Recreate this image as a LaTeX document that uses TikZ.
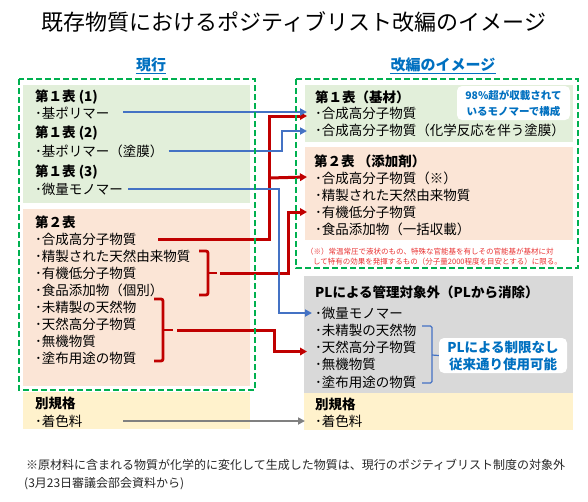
\documentclass[tikz,border=0pt]{standalone}
\usepackage{fontspec}
\setmainfont{Noto Sans CJK JP}
\usetikzlibrary{arrows.meta}
\definecolor{gfill}{RGB}{226,239,218}
\definecolor{sfill}{RGB}{251,229,214}
\definecolor{grfill}{RGB}{217,217,217}
\definecolor{yfill}{RGB}{255,242,204}
\definecolor{dgreen}{RGB}{0,176,80}
\definecolor{lblue}{RGB}{68,114,196}
\definecolor{dred}{RGB}{192,0,0}
\definecolor{tblue}{RGB}{0,112,192}
\definecolor{nred}{RGB}{232,48,48}
\definecolor{agray}{RGB}{128,128,128}
\begin{document}
\begin{tikzpicture}[x=1pt,y=-1pt,
  txt/.style={anchor=west,inner sep=0pt,font=\fontsize{13.5}{16}\selectfont},
  hd/.style={anchor=west,inner sep=0pt,font=\fontsize{13.5}{16}\selectfont\bfseries},
  note/.style={anchor=west,inner sep=0pt,text=nred,font=\fontsize{7.5}{9}\selectfont},
  wbox/.style={fill=white,rounded corners=5pt,inner sep=0pt,align=center,text=tblue},
  bl/.style={draw=lblue,line width=2pt,-{Triangle[length=7pt,width=7pt]}},
  rd/.style={draw=dred,line width=3pt,-{Triangle[length=7pt,width=7.5pt]}},
  rdline/.style={draw=dred,line width=2.8pt,rounded corners=2pt},
  gy/.style={draw=agray,line width=2pt,-{Triangle[length=7pt,width=7pt]}},
  dashbox/.style={draw=dgreen,line width=2.8pt,dash pattern=on 6pt off 3pt},
  lbl/.style={inner sep=0pt,text=tblue,font=\fontsize{15}{18}\selectfont\bfseries},
  foot/.style={anchor=west,inner sep=0pt,text=black!85,font=\fontsize{12}{14}\selectfont}
]
\useasboundingbox (0,0) rectangle (588,501);

% title
\node[inner sep=0pt,font=\fontsize{22}{26}\selectfont] (title) at (294,22) {既存物質におけるポジティブリスト改編のイメージ};
\node[lbl] (hcur) at (151,65) {現行};
\node[lbl] (hnew) at (443,65) {改編のイメージ};
\draw[tblue,line width=1pt] ([yshift=-1.5pt]hcur.south west) -- ([yshift=-1.5pt]hcur.south east);
\draw[tblue,line width=1pt] ([yshift=-1.5pt]hnew.south west) -- ([yshift=-1.5pt]hnew.south east);

% background panels
\fill[gfill] (23,85) rectangle (250,203);
\fill[sfill] (23,209) rectangle (250,386);
\fill[yfill] (23,392) rectangle (250,429);
\fill[gfill] (305,85) rectangle (573,142);
\fill[sfill] (305,147) rectangle (573,240);
\fill[grfill] (304,276) rectangle (573,393);
\fill[yfill] (304,393) rectangle (573,430);

% left texts
\node[hd] (l1h) at (35,97) {第１表 (1)};
\node[txt] (l1) at (35,113) {･基ポリマー};
\node[hd] (l2h) at (35,133) {第１表 (2)};
\node[txt] (l2) at (35,151) {･基ポリマー（塗膜）};
\node[hd] (l3h) at (35,172) {第１表 (3)};
\node[txt] (l3) at (35,189) {･微量モノマー};
\node[hd] (l4h) at (35,222) {第２表};
\node[txt] (l4a) at (35,239) {･合成高分子物質};
\node[txt] (l4b) at (35,256) {･精製された天然由来物質};
\node[txt] (l4c) at (35,273) {･有機低分子物質};
\node[txt] (l4d) at (35,290) {･食品添加物（個別）};
\node[txt] (l4e) at (35,307) {･未精製の天然物};
\node[txt] (l4f) at (35,324) {･天然高分子物質};
\node[txt] (l4g) at (35,341) {･無機物質};
\node[txt] (l4h) at (35,358) {･塗布用途の物質};
\node[hd] (ylh) at (35,403) {別規格};
\node[txt] (yl) at (35,421) {･着色料};

% right texts
\node[hd] (r1h) at (315,97) {第１表（基材）};
\node[txt] (r1a) at (315,113) {･合成高分子物質};
\node[txt] (r1b) at (315,130) {･合成高分子物質（化学反応を伴う塗膜）};
\node[hd] (r2h) at (314,161) {第２表 （添加剤）};
\node[txt] (r2a) at (315,178) {･合成高分子物質（※）};
\node[txt] (r2b) at (315,195) {･精製された天然由来物質};
\node[txt] (r2c) at (315,212) {･有機低分子物質};
\node[txt] (r2d) at (315,229) {･食品添加物（一括収載）};
\node[note] (n1) at (306,252) {（※）常温常圧で液状のもの、特殊な官能基を有しその官能基が基材に対};
\node[note] (n2) at (313,262) {して特有の効果を発揮するもの（分子量2000程度を目安とする）に限る。};
\node[hd] (gh) at (315,292) {PLによる管理対象外（PLから消除）};
\node[txt] (g1) at (315,313) {･微量モノマー};
\node[txt] (g2) at (315,330) {･未精製の天然物};
\node[txt] (g3) at (315,347.5) {･天然高分子物質};
\node[txt] (g4) at (315,364.5) {･無機物質};
\node[txt] (g5) at (315,382) {･塗布用途の物質};
\node[hd] (yrh) at (315,404) {別規格};
\node[txt] (yr) at (315,421) {･着色料};

% white call-out boxes
\node[wbox,minimum width=113pt,minimum height=34pt,font=\fontsize{10.5}{16}\selectfont\bfseries] (wb1) at (513.5,103) {98\%超が収載されて\\いるモノマーで構成};
\node[wbox,minimum width=128pt,minimum height=35pt,font=\fontsize{13.5}{17}\selectfont\bfseries] (wb2) at (503,355.5) {PLによる制限なし\\従来通り使用可能};

% blue bracket in the grey panel
\coordinate (bb) at (432,355);
\draw[lblue,line width=1.2pt,rounded corners=1.5pt] (422,326) -- (432,326) -- (432,383) -- (422,383);
\draw[lblue,line width=1.2pt] (bb) -- (wb2.west);

% red brackets
\coordinate (br1) at (217,273);
\coordinate (br2) at (173,330);
\draw[rdline] (199,251) -- (208,251) -- (208,295) -- (199,295);
\draw[dred,line width=2.8pt] (208,273) -- (br1);
\draw[rdline] (154,299) -- (163,299) -- (163,361) -- (154,361);
\draw[dred,line width=2.8pt] (163,330) -- (br2);

% bend columns
\coordinate (rx1) at (269,0);
\coordinate (rx2) at (288,0);
\coordinate (rx3) at (274,0);
\coordinate (bx2) at (282,0);
\coordinate (bx3) at (279,0);

% red connectors
\coordinate (t1) at ([xshift=-8pt,yshift=-3pt]r1a.west);
\draw[rd] ([xshift=123pt]l4a.west) -| (rx1 |- t1) -- (t1);
\draw[rd] (rx1 |- r2a.west) -- ([xshift=-8pt,yshift=1pt]r2a.west);
\draw[rd] ([xshift=3pt]br1) -| (rx2 |- r2c.west) -- ([xshift=-8pt]r2c.west);
\coordinate (t3) at ([xshift=-8pt,yshift=-4pt]g3.west);
\draw[rd] ([xshift=4pt]br2) -| (rx3 |- t3) -- (t3);

% blue connectors
\draw[bl] ([xshift=88pt,yshift=1pt]l1.west) -- ([xshift=-8pt,yshift=1pt]r1a.west);
\coordinate (t2) at ([xshift=-8pt,yshift=-1pt]r1b.west);
\draw[bl] ([xshift=5pt]l2.east) -| (bx2 |- t2) -- (t2);
\draw[bl] ([xshift=5pt]l3.east) -| (bx3 |- g1.west) -- ([xshift=-3pt]g1.west);

% grey connector
\draw[gy] ([xshift=88pt]yl.west) -- ([xshift=-10pt]yr.west);

% dashed frames
\draw[dashbox] (19,79) rectangle (255,390);
\draw[dashbox] (296,79) rectangle (578,268);

% footnote
\node[foot] (f1) at (26,465) {※原材料に含まれる物質が化学的に変化して生成した物質は、現行のポジティブリスト制度の対象外};
\node[foot] (f2) at (24,484) {(3月23日審議会部会資料から)};
\end{tikzpicture}
\end{document}
